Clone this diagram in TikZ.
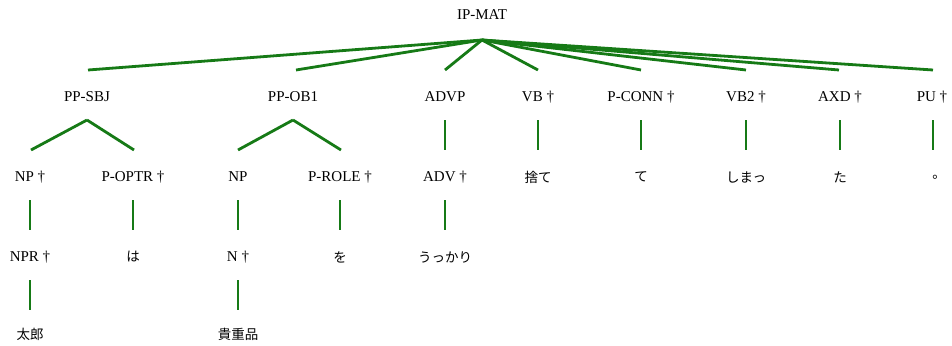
\documentclass[tikz,border=0pt]{standalone}
\usepackage{fontspec}
\setmainfont{Liberation Serif}
\newfontfamily\cjk{Noto Sans CJK JP}
\definecolor{edgegreen}{RGB}{22,122,22}
\begin{document}
\begin{tikzpicture}[x=1pt,y=-1pt,
  lab/.style={inner sep=0pt,font=\fontsize{15}{16}\selectfont},
  jlab/.style={inner sep=0pt,font=\cjk\fontsize{13.5}{14}\selectfont},
  edge/.style={draw=edgegreen,line width=2.8pt}]
\useasboundingbox (0,0) rectangle (952,345);
% labels
\node[lab] (ipmat) at (482,15) {IP-MAT};
\node[lab] (ppsbj) at (87,97) {PP-SBJ};
\node[lab] (ppob1) at (293,97) {PP-OB1};
\node[lab] (advp) at (445,97) {ADVP};
\node[lab] (vb) at (538,97) {VB †};
\node[lab] (pconn) at (641,97) {P-CONN †};
\node[lab] (vb2) at (746,97) {VB2 †};
\node[lab] (axd) at (840,97) {AXD †};
\node[lab] (pu) at (932,97) {PU †};
\node[lab] (np1) at (30,177) {NP †};
\node[lab] (poptr) at (133,177) {P-OPTR †};
\node[lab] (np2) at (238,177) {NP};
\node[lab] (prole) at (340,177) {P-ROLE †};
\node[lab] (adv) at (445,177) {ADV †};
\node[jlab] (sute) at (538,177) {捨て};
\node[jlab] (te) at (641,177) {て};
\node[jlab] (shima) at (746,177) {しまっ};
\node[jlab] (ta) at (840,177) {た};
\node[jlab] (maru) at (939,177) {。};
\node[lab] (npr) at (30,257) {NPR †};
\node[jlab] (wa) at (133,257) {は};
\node[lab] (n) at (238,257) {N †};
\node[jlab] (wo) at (340,257) {を};
\node[jlab] (ukkari) at (445,257) {うっかり};
\node[jlab] (taro) at (30,334) {太郎};
\node[jlab] (kichou) at (238,334) {貴重品};
% connector coordinates
\coordinate (ipmat-b) at (482,40);
\coordinate (ppsbj-t) at (88,70);
\coordinate (ppob1-t) at (296,70);
\coordinate (advp-t) at (445,70);
\coordinate (vb-t) at (538,70);
\coordinate (pconn-t) at (641,70);
\coordinate (vb2-t) at (746,70);
\coordinate (axd-t) at (839,70);
\coordinate (pu-t) at (933,70);
\coordinate (ppsbj-b) at (87,120);
\coordinate (ppob1-b) at (293,120);
\foreach \nm/\x in {advp/445,vb/538,pconn/641,vb2/746,axd/840,pu/933}{
  \coordinate (\nm-b) at (\x,120);}
\foreach \nm/\x in {np1/31,poptr/134,np2/238,prole/341,adv/445,sute/538,te/641,shima/746,ta/840,maru/933}{
  \coordinate (\nm-t) at (\x,150);}
\foreach \nm/\x in {np1/30,poptr/133,np2/238,prole/340,adv/445}{
  \coordinate (\nm-b) at (\x,200);}
\foreach \nm/\x in {npr/30,wa/133,n/238,wo/340,ukkari/445}{
  \coordinate (\nm-t) at (\x,230);}
\coordinate (npr-b) at (30,280);
\coordinate (n-b) at (238,280);
\coordinate (taro-t) at (30,310);
\coordinate (kichou-t) at (238,310);
% connectors
\foreach \c in {ppsbj,ppob1,advp,vb,pconn,vb2,axd,pu}{
  \draw[edge] (ipmat-b) -- (\c-t);}
\draw[edge] (ppsbj-b) -- (np1-t);
\draw[edge] (ppsbj-b) -- (poptr-t);
\draw[edge] (ppob1-b) -- (np2-t);
\draw[edge] (ppob1-b) -- (prole-t);
\draw[edge] (advp-b) -- (adv-t);
\draw[edge] (vb-b) -- (sute-t);
\draw[edge] (pconn-b) -- (te-t);
\draw[edge] (vb2-b) -- (shima-t);
\draw[edge] (axd-b) -- (ta-t);
\draw[edge] (pu-b) -- (maru-t);
\draw[edge] (np1-b) -- (npr-t);
\draw[edge] (poptr-b) -- (wa-t);
\draw[edge] (np2-b) -- (n-t);
\draw[edge] (prole-b) -- (wo-t);
\draw[edge] (adv-b) -- (ukkari-t);
\draw[edge] (npr-b) -- (taro-t);
\draw[edge] (n-b) -- (kichou-t);
\end{tikzpicture}
\end{document}
